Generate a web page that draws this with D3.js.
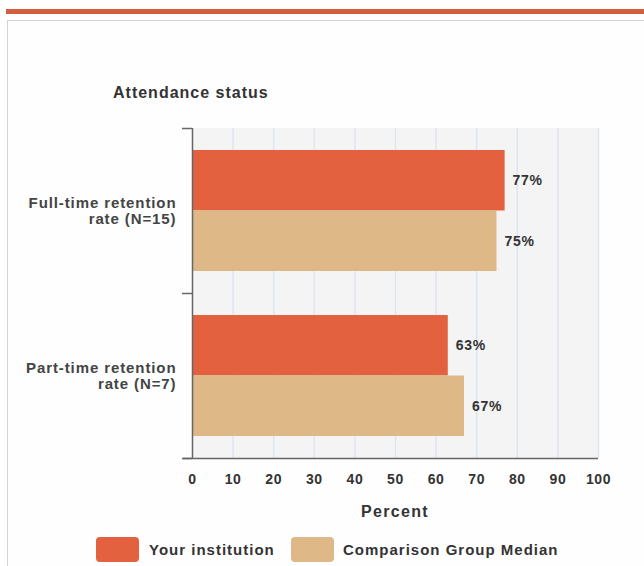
<!DOCTYPE html>
<html><head><meta charset="utf-8">
<script src="https://cdn.jsdelivr.net/npm/d3@7"></script>
<style>
body{margin:0;background:#fff;}
svg text{font-family:"Liberation Sans",Arial,Helvetica,sans-serif;font-weight:bold;}
</style></head>
<body>
<svg id="c" width="644" height="566"></svg>
<script>
const categories = ["Full-time retention\nrate (N=15)", "Part-time retention\nrate (N=7)"];
const seriesNames = ["Your institution", "Comparison Group Median"];
const institution = [77, 63];
const comparison = [75, 67];
const xTicks = [0,10,20,30,40,50,60,70,80,90,100];
const colors = ["#e3613f", "#deb886"];

const svg = d3.select("#c");
// top bar and box
svg.append("rect").attr("x",6).attr("y",9).attr("width",638).attr("height",5).attr("fill","#d2603f");
svg.append("rect").attr("x",7.5).attr("y",20.5).attr("width",660).attr("height",600)
  .attr("fill","#fefefe").attr("stroke","#d4d4d4").attr("stroke-width",1);

const x = d3.scaleLinear().domain([0,100]).range([192,598]);
const y = d3.scaleBand().domain(categories).range([128,458]);
const inner = d3.scaleBand().domain([0,1]).range([22,165-22]);

svg.append("text").attr("x",113).attr("y",98).attr("font-size",16).attr("letter-spacing",1).attr("fill","#333").text("Attendance status");

// plot bg
svg.append("rect").attr("x",x(0)).attr("y",128).attr("width",x(100)-x(0)).attr("height",330).attr("fill","#f4f4f4");
// gridlines
svg.append("g").selectAll("line").data(xTicks.slice(1)).join("line")
  .attr("x1",d=>x(d)+0.5).attr("x2",d=>x(d)+0.5).attr("y1",128).attr("y2",458)
  .attr("stroke","#dde5f0").attr("stroke-width",1.5);

const series = [institution, comparison];
categories.forEach((c,ci)=>{
  series.forEach((s,si)=>{
    const yy = y(c)+inner(si);
    svg.append("rect").attr("x",x(0)).attr("y",yy).attr("width",x(s[ci])-x(0)).attr("height",inner.bandwidth()).attr("fill",colors[si]);
    svg.append("text").attr("x",x(s[ci])+8).attr("y",yy+inner.bandwidth()/2+5).attr("font-size",14).attr("letter-spacing",0.7).attr("fill","#333").text(s[ci]+"%");
  });
  const lines = c.split("\n");
  const cy = y(c)+y.bandwidth()/2;
  lines.forEach((l,li)=>{
    svg.append("text").attr("x",176.5).attr("y",cy+(li-0.5)*16+5).attr("text-anchor","end").attr("font-size",15).attr("letter-spacing",0.9).attr("fill","#444").text(l);
  });
});

// y axis
const ya = svg.append("g");
ya.append("line").attr("x1",192.5).attr("x2",192.5).attr("y1",128).attr("y2",458).attr("stroke","#666").attr("stroke-width",1.5);
ya.selectAll("line.t").data([128,293,458]).join("line").attr("class","t")
  .attr("x1",182).attr("x2",192).attr("y1",d=>d+0.5).attr("y2",d=>d+0.5).attr("stroke","#666").attr("stroke-width",1.5);
// x axis
const xa = svg.append("g").attr("transform","translate(0,458)")
  .call(d3.axisBottom(x).tickValues(xTicks).tickSize(0).tickPadding(16));
xa.select(".domain").remove();
xa.selectAll("text").attr("font-size",14).attr("fill","#333").attr("letter-spacing",0.6).style("font-family","'Liberation Sans',Arial,sans-serif").style("font-weight","bold");
svg.append("line").attr("x1",183).attr("x2",598).attr("y1",458.5).attr("y2",458.5).attr("stroke","#666").attr("stroke-width",1.5);

svg.append("text").attr("x",395).attr("y",517).attr("text-anchor","middle").attr("font-size",16).attr("letter-spacing",1.3).attr("fill","#333").text("Percent");

// legend
const leg = [{x:96,tx:149},{x:291,tx:343}];
seriesNames.forEach((n,i)=>{
  svg.append("rect").attr("x",leg[i].x).attr("y",537).attr("width",43).attr("height",25).attr("rx",4).attr("fill",colors[i]);
  svg.append("text").attr("x",leg[i].tx).attr("y",555).attr("font-size",15).attr("letter-spacing",1).attr("fill","#333").text(n);
});
</script>
</body></html>
